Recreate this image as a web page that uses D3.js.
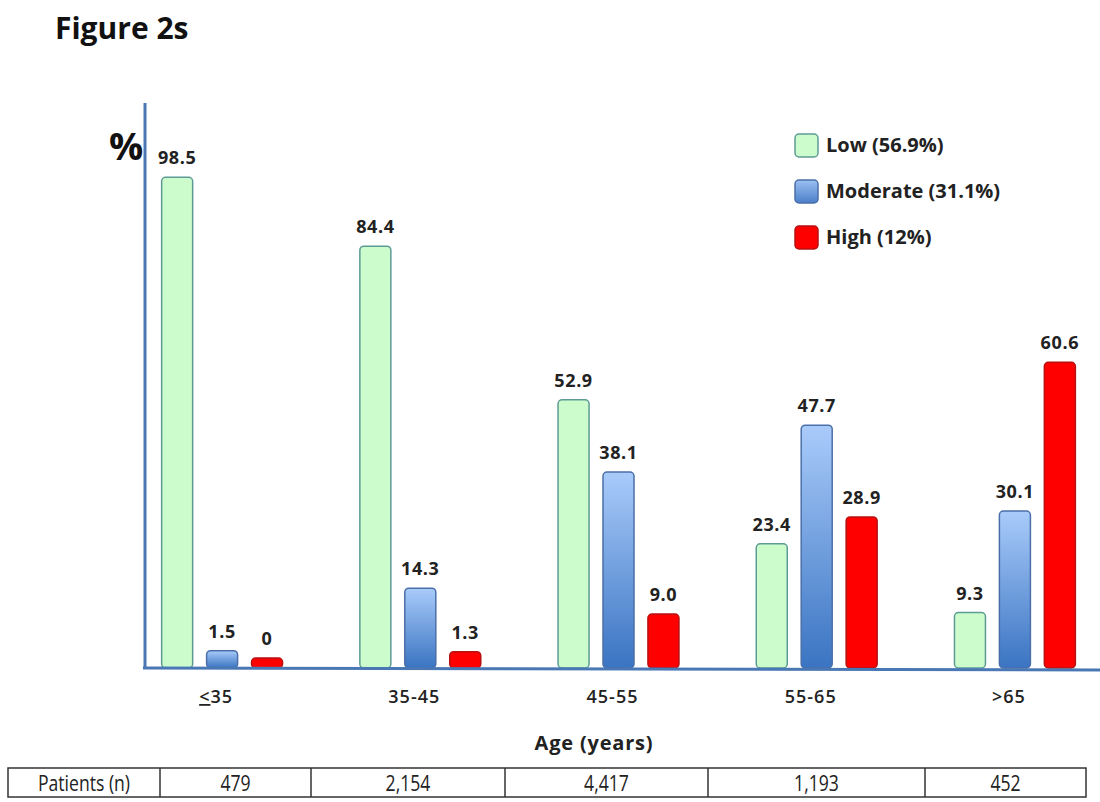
<!DOCTYPE html>
<html><head><meta charset="utf-8">
<script src="https://cdn.jsdelivr.net/npm/d3@7/dist/d3.min.js"></script>
<style>body{margin:0;background:#fff}svg{display:block}</style>
</head><body>
<script>
const categories = ["≤35", "35-45", "45-55", "55-65", ">65"];
const seriesNames = ["Low (56.9%)", "Moderate (31.1%)", "High (12%)"];
const lowValues = [98.5, 84.4, 52.9, 23.4, 9.3];
const moderateValues = [1.5, 14.3, 38.1, 47.7, 30.1];
const highValues = [0, 1.3, 9.0, 28.9, 60.6];
const lowLabels = ["98.5", "84.4", "52.9", "23.4", "9.3"];
const moderateLabels = ["1.5", "14.3", "38.1", "47.7", "30.1"];
const highLabels = ["0", "1.3", "9.0", "28.9", "60.6"];
const patientCounts = ["479", "2,154", "4,417", "1,193", "452"];

const W = 1100, H = 802;
const svg = d3.select("body").append("svg").attr("width", W).attr("height", H);
const font = "'Open Sans', Lato, sans-serif";

const defs = svg.append("defs");
const gb = defs.append("linearGradient").attr("id","gBlue").attr("x1",0).attr("y1",0).attr("x2",0).attr("y2",1);
gb.append("stop").attr("offset","0%").attr("stop-color","#a9cbfa");
gb.append("stop").attr("offset","100%").attr("stop-color","#3a74c2");
const gl = defs.append("linearGradient").attr("id","gBlueL").attr("x1",0).attr("y1",0).attr("x2",0).attr("y2",1);
gl.append("stop").attr("offset","0%").attr("stop-color","#9cc0f2");
gl.append("stop").attr("offset","100%").attr("stop-color","#4a7fc8");

const fills = ["#ccfccc", "url(#gBlue)", "#ff0000"];
const strokes = ["#5d9c95", "#4b6fa8", "#b81010"];

const baseY = 668;
const x0 = d3.scaleBand().domain(categories).range([123, 1114]).paddingInner(0.39).paddingOuter(0.195);
const x1 = d3.scaleBand().domain([0,1,2]).range([0, x0.bandwidth()]).paddingInner(0.31);
const y = d3.scaleLinear().domain([0, 100]).range([658, 170]);

const rows = categories.map((c, i) => ({
  cat: c,
  vals: [
    {s:0, v: lowValues[i], t: lowLabels[i]},
    {s:1, v: moderateValues[i], t: moderateLabels[i]},
    {s:2, v: highValues[i], t: highLabels[i]}
  ]
}));

// Title
svg.append("text").attr("x", 55).attr("y", 39).attr("font-family", font)
  .attr("font-weight", 700).attr("font-size", 30).attr("fill", "#111").text("Figure 2s");

// Bars
const g = svg.selectAll("g.grp").data(rows).enter().append("g")
  .attr("transform", d => `translate(${x0(d.cat)},0)`);
g.selectAll("rect").data(d => d.vals).enter().append("rect")
  .attr("x", d => x1(d.s)).attr("width", x1.bandwidth())
  .attr("y", d => y(d.v)).attr("height", d => baseY - y(d.v))
  .attr("rx", 4).attr("fill", d => fills[d.s]).attr("stroke", d => strokes[d.s]).attr("stroke-width", 1.5);
g.selectAll("text").data(d => d.vals).enter().append("text")
  .attr("x", d => x1(d.s) + x1.bandwidth()/2).attr("y", d => y(d.v) - 13)
  .attr("text-anchor", "middle").attr("font-family", font).attr("font-weight", 700)
  .attr("font-size", 18).attr("letter-spacing", 0.6).attr("fill", "#222").text(d => d.t);

// Axes lines
svg.append("line").attr("x1", 145).attr("x2", 145).attr("y1", 103).attr("y2", baseY + 1)
  .attr("stroke", "#4a78b5").attr("stroke-width", 3);
svg.append("line").attr("x1", 143).attr("x2", 1100).attr("y1", baseY).attr("y2", baseY + 2)
  .attr("stroke", "#4a78b5").attr("stroke-width", 3);

// Category labels
const xAxis = svg.append("g").attr("transform", `translate(0,${baseY})`)
  .call(d3.axisBottom(x0).tickSize(0).tickPadding(0));
xAxis.select(".domain").remove();
xAxis.selectAll("text").attr("y", 35).attr("dy", 0).attr("font-family", font).attr("font-size", 18)
  .attr("font-weight", 600).attr("letter-spacing", 1).attr("fill", "#222")
  .attr("dx", -6)
  .text(d => d === "≤35" ? "" : d);
xAxis.selectAll(".tick").filter(d => d === "≤35").select("text").each(function(){
  const t = d3.select(this);
  t.append("tspan").attr("text-decoration","underline").text("<");
  t.append("tspan").text("35");
});

svg.append("text").attr("x", 594).attr("y", 750).attr("text-anchor", "middle")
  .attr("font-family", font).attr("font-weight", 700).attr("font-size", 20).attr("letter-spacing", 0.8)
  .attr("fill", "#222").text("Age (years)");

// Y axis title
svg.append("text").attr("x", 126).attr("y", 160).attr("text-anchor", "middle")
  .attr("font-family", font).attr("font-weight", 700).attr("font-size", 38).attr("fill", "#111").text("%");

// Legend
const legendFills = ["#ccfccc", "url(#gBlueL)", "#ff0000"];
const lg = svg.append("g").selectAll("g").data(seriesNames).enter().append("g")
  .attr("transform", (d, i) => `translate(795,${134 + i * 46})`);
lg.append("rect").attr("width", 23).attr("height", 23).attr("rx", 4)
  .attr("fill", (d, i) => legendFills[i]).attr("stroke", (d, i) => strokes[i]).attr("stroke-width", 1.5);
lg.append("text").attr("x", 31).attr("y", 18).attr("font-family", font).attr("font-weight", 700)
  .attr("font-size", 20).attr("fill", "#222").text(d => d);

// Table
const colEdges = [8, 160, 311, 505, 708, 925, 1086];
const cells = ["Patients (n)"].concat(patientCounts);
const tg = svg.append("g");
tg.append("rect").attr("x", 8).attr("y", 768).attr("width", 1078).attr("height", 29)
  .attr("fill", "none").attr("stroke", "#333").attr("stroke-width", 1.5);
tg.selectAll("line").data(colEdges.slice(1, -1)).enter().append("line")
  .attr("x1", d => d).attr("x2", d => d).attr("y1", 768).attr("y2", 797)
  .attr("stroke", "#333").attr("stroke-width", 1.5);
tg.selectAll("text").data(cells).enter().append("text")
  .attr("transform", (d, i) => `translate(${(colEdges[i] + colEdges[i + 1]) / 2},791) scale(0.8,1)`)
  .attr("text-anchor", "middle").attr("font-family", "'Open Sans', sans-serif")
  .attr("font-size", 22).attr("fill", "#222").text(d => d);
</script>
</body></html>
